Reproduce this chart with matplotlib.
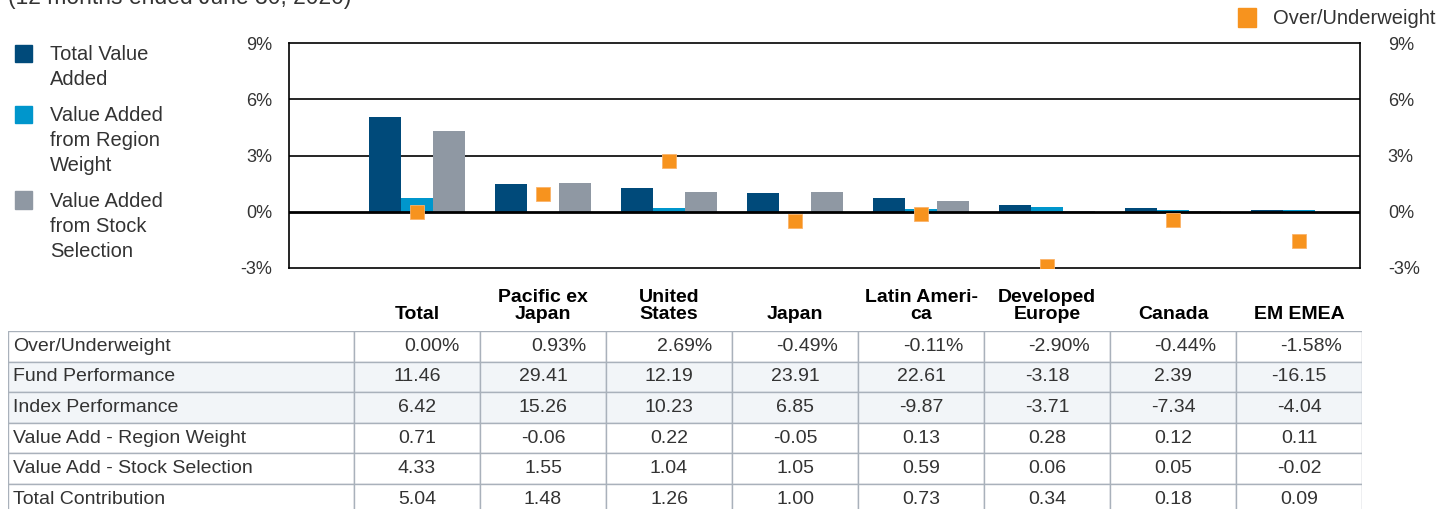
import matplotlib.pyplot as plt
from matplotlib.patches import Rectangle
import numpy as np

plt.rcParams['font.family'] = ['Liberation Sans', 'DejaVu Sans']

# 数据
categories = ['Total', 'Pacific ex\nJapan', 'United\nStates', 'Japan', 'Latin Ameri-\nca',
              'Developed\nEurope', 'Canada', 'EM EMEA']
over_under = [0.00, 0.93, 2.69, -0.49, -0.11, -2.90, -0.44, -1.58]
fund_perf = [11.46, 29.41, 12.19, 23.91, 22.61, -3.18, 2.39, -16.15]
index_perf = [6.42, 15.26, 10.23, 6.85, -9.87, -3.71, -7.34, -4.04]
va_region = [0.71, -0.06, 0.22, -0.05, 0.13, 0.28, 0.12, 0.11]
va_stock = [4.33, 1.55, 1.04, 1.05, 0.59, 0.06, 0.05, -0.02]
total_contrib = [5.04, 1.48, 1.26, 1.00, 0.73, 0.34, 0.18, 0.09]

row_labels = ['Over/Underweight', 'Fund Performance', 'Index Performance',
              'Value Add - Region Weight', 'Value Add - Stock Selection', 'Total Contribution']
yticks = [-3, 0, 3, 6, 9]

NAVY = '#004a7a'
LIGHT = '#0096cc'
GREY = '#8f98a3'
ORANGE = '#f7931e'
TXT = '#333333'

W, H = 1440, 509
fig = plt.figure(figsize=(W / 100, H / 100), dpi=100)


def fx(px):
    return px / W


def fy(py):
    return 1 - py / H


# 主图
ax = fig.add_axes([fx(289), fy(268), fx(1360) - fx(289), fy(43) - fy(268)])
x = np.arange(len(categories))
w = 0.254
ax.bar(x - w, total_contrib, w, color=NAVY, zorder=2)
ax.bar(x, va_region, w, color=LIGHT, zorder=2)
ax.bar(x + w, va_stock, w, color=GREY, zorder=2)
ax.plot(x, over_under, 's', color=ORANGE, ms=10, mec='#fbb36a', mew=0.6, zorder=4)

ax.set_xlim(-1.016, 7.484)
ax.set_ylim(-3, 9)
ax.set_yticks(yticks)
ax.set_yticklabels([f'{t}%' for t in yticks])
ax.set_xticks([])
for t in [3, 6]:
    ax.axhline(t, color='black', lw=1.2, zorder=1)
ax.axhline(0, color='black', lw=2.0, zorder=3)
for s in ax.spines.values():
    s.set_color('black')
    s.set_linewidth(1.2)
ax.tick_params(axis='y', length=0, labelsize=13, labelcolor=TXT, pad=12)

# 右侧刻度
ax2 = ax.twinx()
ax2.set_ylim(-3, 9)
ax2.set_yticks(yticks)
ax2.set_yticklabels([f'{t}%' for t in yticks])
ax2.tick_params(axis='y', length=0, labelsize=13, labelcolor=TXT, pad=20)
for s in ax2.spines.values():
    s.set_visible(False)

# 分类标签
for i, c in enumerate(categories):
    ax.text(i, -(323 - 268) / 225, c, transform=ax.get_xaxis_transform(),
            ha='center', va='bottom', fontsize=14, fontweight='bold',
            color='black', linespacing=1.0)

# 图例
series = [('Total Value\nAdded', NAVY, 53),
          ('Value Added\nfrom Region\nWeight', LIGHT, 114),
          ('Value Added\nfrom Stock\nSelection', GREY, 200)]
for label, col, yc in series:
    fig.add_artist(Rectangle((fx(15), fy(yc + 8.5)), fx(17), fy(yc - 8.5) - fy(yc + 8.5),
                             transform=fig.transFigure, color=col))
    fig.text(fx(50), fy(yc - 8), label, ha='left', va='top', fontsize=14.5,
             color=TXT, linespacing=1.4)

fig.add_artist(Rectangle((fx(1238), fy(27)), fx(18), fy(8) - fy(27),
                         transform=fig.transFigure, color=ORANGE))
fig.text(fx(1273), fy(19), 'Over/Underweight', ha='left', va='center',
         fontsize=14.5, color=TXT)

# 标题（被裁切）
fig.text(fx(8), fy(4), '(12 months ended June 30, 2020)', ha='left', va='baseline',
         fontsize=16.5, color=TXT)

# 表格
tab_top, row_h = 331, 30.6
first_w, col_w = 346, 126
tx = fig.add_axes([fx(8), fy(tab_top + row_h * 6), fx(8 + first_w + col_w * 8) - fx(8),
                   fy(tab_top) - fy(tab_top + row_h * 6)])
tx.set_xlim(0, first_w + col_w * 8)
tx.set_ylim(len(row_labels), 0)
tx.axis('off')

table_rows = [over_under, fund_perf, index_perf, va_region, va_stock, total_contrib]
for r, (lab, vals) in enumerate(zip(row_labels, table_rows)):
    bg = '#f2f5f8' if r in (1, 2) else 'white'
    tx.add_patch(Rectangle((0, r), first_w, 1, facecolor=bg, edgecolor='#a9b1bb', lw=1.0))
    tx.text(5, r + 0.5, lab, ha='left', va='center', fontsize=14, color=TXT)
    for c, v in enumerate(vals):
        x0 = first_w + c * col_w
        tx.add_patch(Rectangle((x0, r), col_w, 1, facecolor=bg, edgecolor='#a9b1bb', lw=1.0))
        if r == 0:
            tx.text(x0 + col_w - 20, r + 0.5, f'{v:.2f}%', ha='right', va='center',
                    fontsize=14, color=TXT)
        else:
            tx.text(x0 + col_w / 2, r + 0.5, f'{v:.2f}', ha='center', va='center',
                    fontsize=14, color=TXT)

fig.savefig('out.png', dpi=100)
